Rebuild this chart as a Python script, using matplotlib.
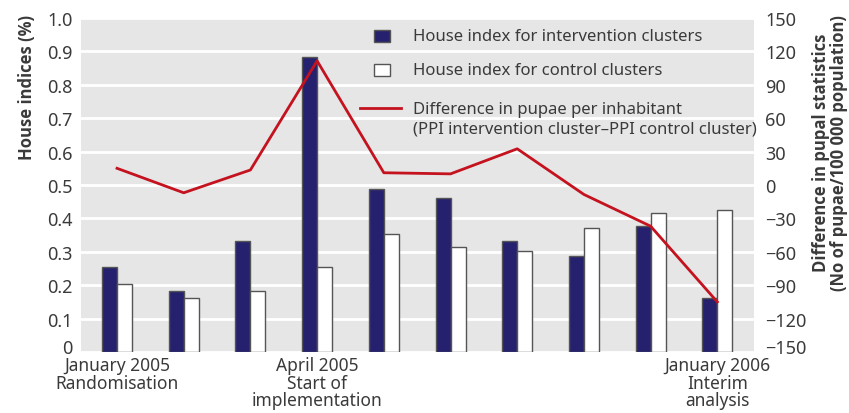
import numpy as np
import matplotlib.pyplot as plt
import matplotlib.transforms as mtransforms
from matplotlib.patches import Rectangle
from matplotlib.lines import Line2D

plt.rcParams['font.family'] = ['Noto Sans', 'DejaVu Sans']

# data
intervention = [0.255, 0.182, 0.331, 0.884, 0.487, 0.460, 0.332, 0.286, 0.376, 0.161]
control = [0.204, 0.162, 0.183, 0.254, 0.354, 0.315, 0.301, 0.370, 0.416, 0.425]
ppi_diff = [15, -7, 13.5, 111.5, 11, 10, 32.5, -8.5, -37, -105]
xlabels = ['January 2005\nRandomisation', '', '', 'April 2005\nStart of\nimplementation',
           '', '', '', '', '', 'January 2006\nInterim\nanalysis']

navy = '#26216f'
red = '#c4121f'
txt = '#3a3a3a'
W, H = 849, 414


def fx(px):
    return px / W


def fy(py):
    return 1 - py / H


fig = plt.figure(figsize=(8.49, 4.14), dpi=100)
ax = fig.add_axes([fx(81), fy(353), 673 / W, 334 / H])
ax2 = ax.twinx()

x = np.arange(len(intervention))
w = 0.225
ax.set_facecolor('#e6e6e6')
ax.bar(x - w / 2, intervention, w, color=navy, edgecolor='#555555', linewidth=1, zorder=3)
ax.bar(x + w / 2, control, w, color='white', edgecolor='#555555', linewidth=1, zorder=3)
ax2.plot(x, ppi_diff, color=red, lw=2, zorder=4)

ax.set_xlim(-0.54, 9.55)
ax.set_ylim(0, 1)
ax2.set_ylim(-150, 150)
ax.set_yticks(np.arange(0, 1.01, 0.1))
ax.set_yticklabels(['0'] + ['%.1f' % v for v in np.arange(0.1, 1.01, 0.1)])
ax2.set_yticks(np.arange(-150, 151, 30))
ax.grid(axis='y', color='white', lw=2, zorder=0)
ax.set_axisbelow(True)

for a in (ax, ax2):
    for s in a.spines.values():
        s.set_visible(False)
    a.tick_params(length=0, labelsize=13, colors=txt)
ax.tick_params(axis='y', pad=6)
ax2.tick_params(axis='y', pad=8)
for lbl in ax2.get_yticklabels():
    lbl.set_horizontalalignment('left')
# the bottom tick labels sit a little above the baseline
up = mtransforms.ScaledTranslation(0, 6 / 100, fig.dpi_scale_trans)
ax.get_yticklabels()[0].set_transform(ax.get_yticklabels()[0].get_transform() + up)
ax2.get_yticklabels()[0].set_transform(ax2.get_yticklabels()[0].get_transform() + up)

ax.set_xticks(x)
ax.set_xticklabels(xlabels, fontsize=12.5, color=txt, linespacing=0.97)
ax.tick_params(axis='x', pad=3)

bold = ['Open Sans', 'DejaVu Sans']
fig.text(fx(27), fy(15), 'House indices (%)', rotation=90, fontsize=12, family=bold,
         fontweight='bold', color=txt, ha='center', va='top')
fig.text(fx(830), fy(15),
         'Difference in pupal statistics\n(No of pupae/100 000 population)',
         rotation=90, fontsize=12, fontweight='bold', family=bold, color=txt,
         ha='center', va='top', linespacing=1.05)

# legend drawn by hand
fig.patches.append(Rectangle((fx(374), fy(43)), 16 / W, 12 / H, transform=fig.transFigure,
                             facecolor=navy, edgecolor='#555555', lw=1, zorder=5))
fig.patches.append(Rectangle((fx(374), fy(77)), 16 / W, 12 / H, transform=fig.transFigure,
                             facecolor='white', edgecolor='#555555', lw=1, zorder=5))
fig.lines.append(Line2D([fx(360), fx(401)], [fy(109), fy(109)], transform=fig.transFigure,
                        color=red, lw=2, zorder=5))
fig.text(fx(413), fy(37), 'House index for intervention clusters', fontsize=12,
         color=txt, va='center')
fig.text(fx(413), fy(71), 'House index for control clusters', fontsize=12,
         color=txt, va='center')
fig.text(fx(413), fy(120),
         'Difference in pupae per inhabitant\n(PPI intervention cluster\u2013PPI control cluster)',
         fontsize=12, color=txt, va='center', linespacing=1.3)

fig.savefig('out.png', dpi=100)
